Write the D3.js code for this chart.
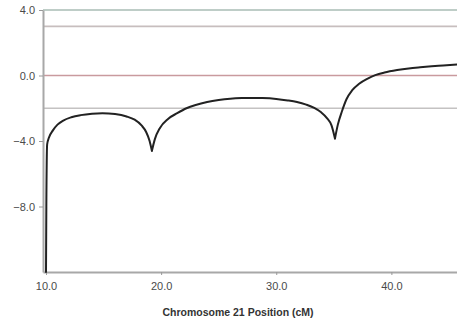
<!DOCTYPE html>
<html>
<meta charset="utf-8">
<script src="https://d3js.org/d3.v7.min.js"></script>
<style>
  body { margin: 0; background: #fff; }
  text { font-family: "Liberation Sans", Arial, sans-serif; }
</style>
<body>
<div id="lod"></div>
<script>
// LOD profile
var posCM = [10.0, 10.03, 10.1, 10.25, 10.6, 11.0, 11.5, 12.2, 13.0, 14.0, 14.9, 16.0, 17.0, 17.7, 18.3, 18.7, 19.0, 19.2,
  19.45, 19.9, 20.6, 21.4, 22.2, 23.0, 24.0, 25.0, 26.0, 27.0, 27.8, 28.8, 30.0, 31.0, 31.8, 32.6, 33.3, 33.9, 34.4, 34.8, 35.1,
  35.35, 35.7, 36.1, 36.6, 37.2, 37.9, 38.6, 39.4, 40.5, 41.5, 42.5, 43.5, 44.5, 45.7];
var lodScore = [-12.0, -8.0, -4.2, -3.8, -3.35, -3.0, -2.75, -2.55, -2.42, -2.33, -2.3, -2.35, -2.5, -2.7, -3.05, -3.45, -4.0, -4.6,
  -3.9, -3.2, -2.65, -2.3, -2.0, -1.8, -1.62, -1.5, -1.42, -1.38, -1.37, -1.38, -1.43, -1.52, -1.62, -1.78, -1.98, -2.25, -2.6, -3.05, -3.85,
  -3.0, -2.2, -1.45, -0.9, -0.5, -0.2, 0.02, 0.18, 0.33, 0.43, 0.5, 0.56, 0.61, 0.67];
// positions of the marker cusps (curve is broken there)
var cusps = [19.2, 35.1];

var yTicks = [4, 0, -4, -8];
var xTicks = [10, 20, 30, 40];
// reference lines: value + colour
var refLines = [4.0, 3.0, 0.0, -2.0];
var refColors = ["#a9bcb5", "#c7bebe", "#c99a9e", "#c4c2c2"];

var W = 457, H = 328;
var margin = {top: 10, right: 0, bottom: 56, left: 43};

var svg = d3.select("#lod").append("svg")
    .attr("width", W)
    .attr("height", H);

var x = d3.scaleLinear().domain([9.74, 45.7]).range([margin.left, W - margin.right]);
var y = d3.scaleLinear().domain([-12, 4]).range([H - margin.bottom, margin.top]);

// horizontal threshold lines
svg.selectAll(".ref")
  .data(refLines)
  .enter().append("line")
    .attr("x1", margin.left)
    .attr("x2", W)
    .attr("y1", function(d) { return y(d); })
    .attr("y2", function(d) { return y(d); })
    .attr("stroke", function(d, i) { return refColors[i]; })
    .attr("stroke-width", 1.6);

// y axis
var yAxis = svg.append("g")
    .attr("transform", "translate(" + margin.left + ",0)")
    .call(d3.axisLeft(y).tickValues(yTicks).tickFormat(d3.format(".1f")).tickSize(4).tickSizeOuter(0));

// x axis
var xAxis = svg.append("g")
    .attr("transform", "translate(0," + (H - margin.bottom) + ")")
    .call(d3.axisBottom(x).tickValues(xTicks).tickFormat(d3.format(".1f")).tickSize(3).tickSizeOuter(0));

[yAxis, xAxis].forEach(function(ax) {
  ax.select(".domain").attr("stroke", "#a8a8a8").attr("stroke-width", 2);
  ax.selectAll(".tick line").attr("stroke", "#999");
  ax.selectAll(".tick text").attr("fill", "#4a4a4a").style("font-size", "11px");
});
xAxis.selectAll(".tick text").attr("dy", "1.1em");
yAxis.selectAll(".tick text").attr("dx", "-1px");

svg.append("text")
    .attr("x", 238)
    .attr("y", 316)
    .attr("text-anchor", "middle")
    .attr("fill", "#333")
    .style("font-size", "10.5px")
    .style("font-weight", "bold")
    .text("Chromosome 21 Position (cM)");

// LOD curve, drawn piecewise so the cusps stay sharp
var pts = posCM.map(function(p, i) { return [p, lodScore[i]]; });
var bounds = [posCM[0]].concat(cusps, [posCM[posCM.length - 1]]);
var pieces = [];
for (var k = 0; k < bounds.length - 1; k++) {
  pieces.push(pts.filter(function(d) { return d[0] >= bounds[k] && d[0] <= bounds[k + 1]; }));
}
var line = d3.line()
    .x(function(d) { return x(d[0]); })
    .y(function(d) { return y(d[1]); })
    .curve(d3.curveMonotoneX);

svg.selectAll(".lod")
  .data(pieces)
  .enter().append("path")
    .attr("fill", "none")
    .attr("stroke", "#222")
    .attr("stroke-width", 2)
    .attr("stroke-linejoin", "round")
    .attr("stroke-linecap", "round")
    .attr("d", line);
</script>
</body>
</html>
